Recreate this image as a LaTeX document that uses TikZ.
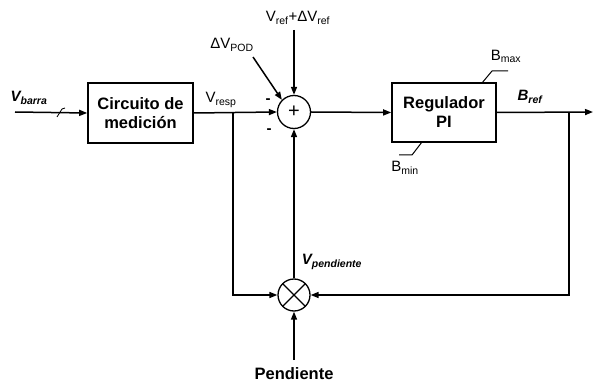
\documentclass[tikz,border=0pt]{standalone}
\usepackage{fontspec}
\setmainfont{Liberation Sans}
\usetikzlibrary{arrows.meta}
\begin{document}
\begin{tikzpicture}[x=1pt,y=-1pt,
  blk/.style={draw,line width=1.6pt,minimum width=105pt,minimum height=60pt,align=center,font=\fontsize{16.5}{19}\selectfont\bfseries,inner sep=0pt},
  sumc/.style={draw,circle,line width=1.3pt,minimum size=33pt,inner sep=0pt,font=\fontsize{20}{20}\selectfont},
  mulc/.style={draw,circle,line width=1.3pt,minimum size=32pt,inner sep=0pt,
    path picture={\draw[line width=1.2pt] (path picture bounding box.south east) -- (path picture bounding box.north west)
      (path picture bounding box.south west) -- (path picture bounding box.north east);}},
  arr/.style={line width=1.5pt,-{Triangle[length=8pt,width=6pt]}},
  lbl/.style={inner sep=0pt,font=\fontsize{15}{15}\selectfont},
  blbl/.style={inner sep=0pt,font=\fontsize{15}{15}\selectfont\bfseries\itshape},
  lim/.style={line width=1pt}]
\useasboundingbox (0,0) rectangle (593,387);
\node[blk] (circ) at (140.5,113) {Circuito de\\medición};
\node[sumc] (sum) at (294,112) {+};
\node[blk,minimum width=104pt,minimum height=59pt] (reg) at (444,112.5) {Regulador\\PI};
\node[mulc] (mul) at (294,295) {};
\coordinate (in) at (15,112);
\coordinate (j1) at (233,112);
\coordinate (j1b) at (233,295);
\coordinate (j2) at (569,112);
\coordinate (j2b) at (569,295);
\coordinate (out) at (593,112);
\coordinate (vreft) at (294,30);
\coordinate (pods) at (253,57);
\coordinate (pendb) at (294,360);
\coordinate (bmaxa) at (482,83);
\coordinate (bmaxb) at (492,71);
\coordinate (bmaxc) at (508,71);
\coordinate (bmina) at (422,142);
\coordinate (bminb) at (412,155);
\coordinate (bminc) at (399,155);
% connectors
\draw[arr] (in) -- (circ.west);
\draw[line width=0.8pt] (57,117) -- (62,109) -- (65,108);
\draw[arr] (circ.east) -- (sum.west);
\draw[arr] (vreft) -- (sum.north);
\draw[arr] (pods) -- (sum.north west);
\draw[arr] (sum.east) -- (reg.west);
\draw[arr] (reg.east) -- (out);
\draw[arr] (j1) -- (j1b) -- (mul.west);
\draw[arr] (j2) -- (j2b) -- (mul.east);
\draw[arr] (mul.north) -- (sum.south);
\draw[arr] (pendb) -- (mul.south);
\draw[lim] (bmaxa) -- (bmaxb) -- (bmaxc);
\draw[lim] (bmina) -- (bminb) -- (bminc);
% labels
\node[blbl] (lvb) at (29,98) {V\textsubscript{barra}};
\node[lbl] (lvr) at (221,100) {V\textsubscript{resp}};
\node[lbl] (lref) at (298,18) {V\textsubscript{ref}+ΔV\textsubscript{ref}};
\node[lbl] (lpod) at (232,45) {ΔV\textsubscript{POD}};
\node[lbl] (lm1) at (268,101) {\textbf{-}};
\node[lbl] (lm2) at (269,131) {\textbf{-}};
\node[lbl] (lbmax) at (506,56) {B\textsubscript{max}};
\node[lbl] (lbmin) at (405,168) {B\textsubscript{min}};
\node[blbl] (lbref) at (530,97) {B\textsubscript{ref}};
\node[blbl] (lvp) at (332,262) {V\textsubscript{pendiente}};
\node[inner sep=0pt,font=\fontsize{16.5}{16}\selectfont\bfseries] (lpend) at (294,374) {Pendiente};
\end{tikzpicture}
\end{document}
